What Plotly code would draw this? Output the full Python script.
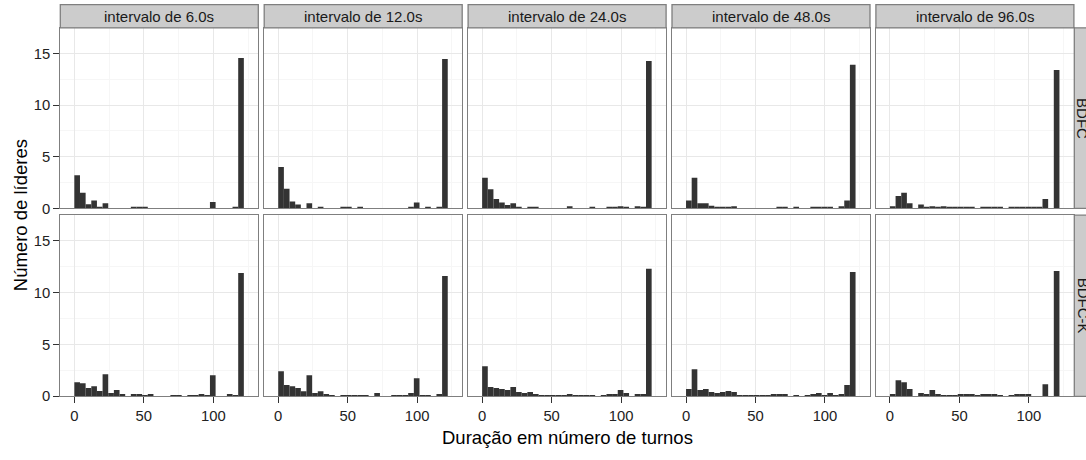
import plotly.graph_objects as go

W, H = 1086, 460

# ---------------- data ----------------
intervals = ["intervalo de 6.0s", "intervalo de 12.0s", "intervalo de 24.0s",
             "intervalo de 48.0s", "intervalo de 96.0s"]
algorithms = ["BDFC", "BDFC-K"]

n_bins = 30
bin_width = 122 / n_bins
bin_centers = [(i + 0.5) * bin_width for i in range(n_bins)]

bdfc_6s = [3.2, 1.5, 0.4, 0.75, 0.1, 0.5, 0, 0, 0, 0, 0.1, 0.1, 0.15, 0, 0,
           0, 0, 0, 0, 0, 0, 0, 0, 0, 0.6, 0, 0, 0, 0.1, 14.55]
bdfc_12s = [4.0, 1.9, 0.65, 0.38, 0, 0.48, 0, 0.1, 0, 0, 0, 0.1, 0.1, 0, 0.1,
            0, 0, 0, 0, 0, 0, 0, 0, 0.1, 0.57, 0, 0.1, 0, 0.1, 14.45]
bdfc_24s = [2.95, 1.85, 0.9, 0.57, 0.32, 0.48, 0.1, 0, 0.1, 0.1, 0, 0, 0, 0, 0,
            0.2, 0, 0, 0, 0.1, 0, 0, 0.1, 0.1, 0.2, 0.1, 0, 0.2, 0.1, 14.27]
bdfc_48s = [0.76, 2.95, 0.48, 0.48, 0.25, 0.16, 0.1, 0.1, 0.2, 0, 0, 0, 0, 0, 0,
            0, 0.1, 0.1, 0, 0.1, 0, 0, 0.1, 0.1, 0.1, 0.1, 0, 0.2, 0.76, 13.9]
bdfc_96s = [0.2, 1.2, 1.5, 0.48, 0, 0.38, 0.1, 0.2, 0.1, 0.2, 0.1, 0.1, 0.1, 0.1, 0.1,
            0, 0.1, 0.1, 0.1, 0.1, 0, 0.1, 0.1, 0.1, 0.1, 0.1, 0.1, 0.9, 0, 13.4]

bdfck_6s = [1.36, 1.27, 0.8, 0.98, 0.5, 2.12, 0.32, 0.6, 0.22, 0, 0.22, 0.22, 0.13, 0.22, 0,
            0, 0, 0.13, 0.13, 0, 0.13, 0.13, 0.22, 0.13, 2.03, 0, 0, 0.22, 0.13, 11.9]
bdfck_12s = [2.41, 1.08, 0.98, 0.79, 0.48, 2.03, 0.32, 0.48, 0.22, 0.13, 0, 0.13, 0.13, 0.13, 0.13,
             0.13, 0, 0.32, 0, 0, 0.13, 0.13, 0.13, 0.32, 1.74, 0.13, 0.13, 0, 0.22, 11.6]
bdfck_24s = [2.89, 0.89, 0.79, 0.7, 0.6, 0.89, 0.41, 0.32, 0.41, 0.22, 0.13, 0.13, 0.13, 0.13, 0.13,
             0.22, 0.13, 0.13, 0.13, 0.13, 0, 0.13, 0.22, 0.22, 0.6, 0.32, 0, 0.22, 0.22, 12.3]
bdfck_48s = [0.7, 2.6, 0.6, 0.7, 0.41, 0.32, 0.41, 0.51, 0.41, 0.13, 0.13, 0.13, 0.13, 0.13, 0.13,
             0.22, 0.22, 0.22, 0, 0.13, 0, 0.13, 0.22, 0.32, 0.13, 0.32, 0.13, 0.22, 1.08, 12.0]
bdfck_96s = [0.22, 1.55, 1.36, 0.7, 0, 0.32, 0.22, 0.6, 0.22, 0.13, 0.13, 0.13, 0.22, 0.22, 0.22,
             0.13, 0.22, 0.22, 0.22, 0.13, 0, 0.13, 0.22, 0.22, 0.22, 0, 0, 1.17, 0, 12.1]

rows_data = [
    [bdfc_6s, bdfc_12s, bdfc_24s, bdfc_48s, bdfc_96s],
    [bdfck_6s, bdfck_12s, bdfck_24s, bdfck_48s, bdfck_96s],
]

x_ticks = [0, 50, 100]
x_minor = [25, 75, 125]
y_ticks = [0, 5, 10, 15]
y_minor = [2.5, 7.5, 12.5]

# ---------------- layout geometry (pixels) ----------------
col_left0 = 60.3
col_step = 203.9
col_width = 198.0
row_px = [(28.3, 212.0), (219.0, 403.3)]
strip_top = (4.7, 28.3)
right_strip = (1074.3, 1097.0)

FONT = "Liberation Sans, Arial, Helvetica, sans-serif"
BORDER = "#7F7F7F"
STRIP_FILL = "#CCCCCC"
BAR = "#333333"

def px_x(p):
    return p / W

def px_y(p):
    return 1 - p / H

fig = go.Figure()
layout = dict(
    width=W, height=H,
    margin=dict(l=0, r=0, t=0, b=0),
    paper_bgcolor="white", plot_bgcolor="white",
    showlegend=False,
    font=dict(family=FONT, color="#1a1a1a"),
)
shapes = []
annotations = []

for r in range(2):
    for c in range(5):
        idx = r * 5 + c + 1
        sfx = "" if idx == 1 else str(idx)
        fig.add_trace(go.Bar(
            x=bin_centers, y=rows_data[r][c], width=bin_width,
            marker=dict(color=BAR, line=dict(width=0)),
            xaxis="x" + sfx, yaxis="y" + sfx, hoverinfo="x+y",
        ))
        l = col_left0 + c * col_step
        rr = l + col_width
        t, b = row_px[r]
        bottom = (r == 1)
        left = (c == 0)
        layout["xaxis" + sfx] = dict(
            domain=[px_x(l), px_x(rr)], range=[-10.1, 132.4],
            anchor="y" + sfx,
            tickmode="array", tickvals=x_ticks,
            showticklabels=bottom,
            ticks="outside" if bottom else "", ticklen=6, tickwidth=1.1,
            tickcolor="#333333",
            tickfont=dict(size=14.8, color="#222222", family=FONT),
            showgrid=True, gridcolor="#E8E8E8", gridwidth=1,
            minor=dict(tickvals=x_minor, showgrid=True, gridcolor="#F6F6F6",
                       gridwidth=1, ticks=""),
            zeroline=False,
            showline=True, mirror=True, linecolor=BORDER, linewidth=1.3,
            fixedrange=True,
        )
        layout["yaxis" + sfx] = dict(
            domain=[px_y(b), px_y(t)], range=[0, 17.48],
            anchor="x" + sfx,
            tickmode="array", tickvals=y_ticks,
            showticklabels=left,
            ticks="outside" if left else "", ticklen=6, tickwidth=1.1,
            tickcolor="#333333",
            tickfont=dict(size=14.8, color="#222222", family=FONT),
            showgrid=True, gridcolor="#E8E8E8", gridwidth=1,
            minor=dict(tickvals=y_minor, showgrid=True, gridcolor="#F6F6F6",
                       gridwidth=1, ticks=""),
            zeroline=False,
            showline=True, mirror=True, linecolor=BORDER, linewidth=1.3,
            fixedrange=True,
        )

# top strips
for c in range(5):
    l = col_left0 + c * col_step
    rr = l + col_width
    shapes.append(dict(type="rect", xref="paper", yref="paper",
                       x0=px_x(l), x1=px_x(rr), y0=px_y(strip_top[1]), y1=px_y(strip_top[0]),
                       fillcolor=STRIP_FILL, line=dict(color=BORDER, width=1.3), layer="above"))
    annotations.append(dict(xref="paper", yref="paper", x=px_x((l + rr) / 2),
                            y=px_y((strip_top[0] + strip_top[1]) / 2),
                            text=intervals[c], showarrow=False,
                            font=dict(size=15, color="#1a1a1a", family=FONT),
                            xanchor="center", yanchor="middle"))

# right strips (cut by the right edge, as in the reference)
for r in range(2):
    t, b = row_px[r]
    shapes.append(dict(type="rect", xref="paper", yref="paper",
                       x0=px_x(right_strip[0]), x1=px_x(right_strip[1]),
                       y0=px_y(b), y1=px_y(t),
                       fillcolor=STRIP_FILL, line=dict(color=BORDER, width=1.3), layer="above"))
    annotations.append(dict(xref="paper", yref="paper", x=px_x(1083),
                            y=px_y((t + b) / 2), text=algorithms[r], showarrow=False,
                            textangle=90,
                            font=dict(size=15, color="#1a1a1a", family=FONT),
                            xanchor="center", yanchor="middle"))

# axis titles
annotations.append(dict(xref="paper", yref="paper", x=px_x(567), y=px_y(445),
                        text="Duração em número de turnos", showarrow=False,
                        font=dict(size=18.5, color="#000000", family=FONT),
                        xanchor="center", yanchor="middle"))
annotations.append(dict(xref="paper", yref="paper", x=px_x(20), y=px_y(219),
                        text="Número de líderes", showarrow=False, textangle=-90,
                        font=dict(size=18.5, color="#000000", family=FONT),
                        xanchor="center", yanchor="middle"))

layout["shapes"] = shapes
layout["annotations"] = annotations
fig.update_layout(**layout)

fig.write_html(
    "out.html",
    config={"displayModeBar": False},
    post_script="document.body.style.margin='0';document.body.style.overflow='hidden';",
)
